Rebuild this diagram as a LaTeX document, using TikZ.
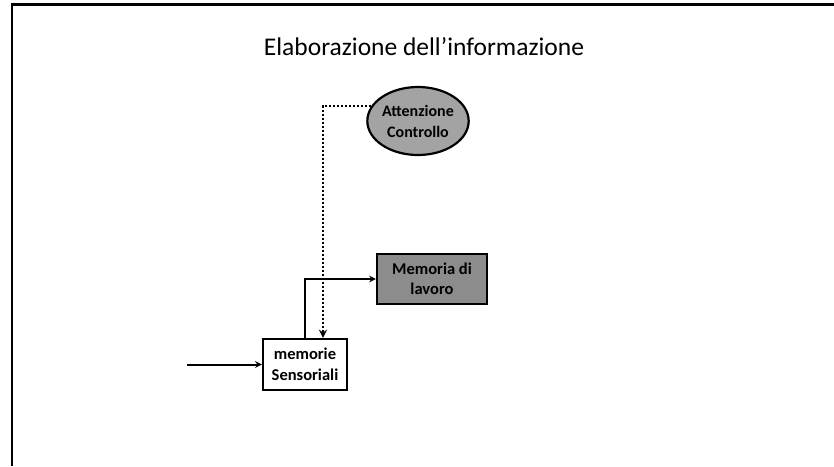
\documentclass[tikz,border=0pt]{standalone}
\usepackage{fontspec}
\setmainfont{Carlito}
\usetikzlibrary{arrows, shapes.geometric, positioning}
\definecolor{ovalgray}{HTML}{A3A3A3}
\definecolor{boxgray}{HTML}{8C8C8C}
\tikzstyle{arrow}    = [line width=2pt,->,>=stealth]
\tikzstyle{dotarrow} = [line width=2.6pt,->,>=stealth,dash pattern=on 2pt off 2pt]
\tikzstyle{block}    = [draw, line width=2.2pt, rectangle, align=center, font=\bfseries\fontsize{16.5}{20.5}\selectfont, inner sep=2pt]
\tikzstyle{oval}     = [draw, line width=2.2pt, ellipse, fill=ovalgray, align=center, font=\bfseries\fontsize{16}{21}\selectfont, minimum width=100pt, minimum height=68pt, inner sep=0pt]

\begin{document}
\begin{tikzpicture}[x=1pt,y=-1pt]
\useasboundingbox (0,0) rectangle (834,466);

% frame
\draw[line width=2.6pt] (12,466) -- (12,4.5) -- (834,4.5);

\node[font=\fontsize{25.5}{30}\selectfont] (title) at (424,47) {Elaborazione dell’informazione};

\node[oval] (att) at (418,121) {Attenzione\\Controllo};
\node[block, fill=boxgray, minimum width=110pt, minimum height=50pt] (mdl) at (432,279) {Memoria di\\lavoro};
\node[block, fill=white, minimum width=84pt, minimum height=51pt] (ms) at (305,364.5) {memorie\\Sensoriali};

\coordinate (in) at (187,364.5);

\draw[arrow] (in) -- (ms);
\draw[arrow] (ms.north) |- (mdl.west);
\draw[dotarrow] (att.162) -| ([xshift=18pt]ms.north);

\end{tikzpicture}
\end{document}
